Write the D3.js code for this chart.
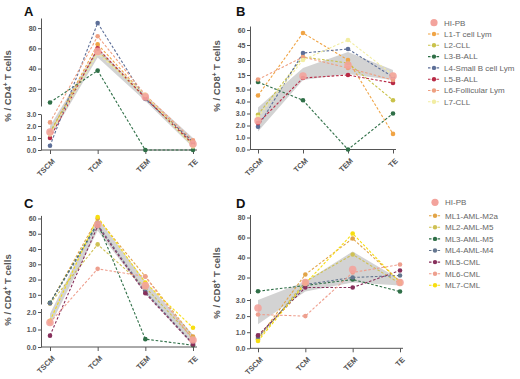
<!DOCTYPE html>
<html><head><meta charset="utf-8">
<script src="https://cdn.jsdelivr.net/npm/d3@7"></script>
<style>body{margin:0;background:#fff}svg{display:block}text{font-family:"Liberation Sans",Arial,sans-serif}</style>
</head><body><svg id="c" width="520" height="379"></svg>
<script>
// ---------- categories & names ----------
const stages = ["TSCM", "TCM", "TEM", "TE"];
const lymphNames = ["HI-PB", "L1-T cell Lym", "L2-CLL", "L3-B-ALL", "L4-Small B cell Lym", "L5-B-ALL", "L6-Follicular Lym", "L7-CLL"];
const myeloNames = ["HI-PB", "ML1-AML-M2a", "ML2-AML-M5", "ML3-AML-M5", "ML4-AML-M4", "ML5-CML", "ML6-CML", "ML7-CML"];
const lymphColors = ["#f3a39c", "#f0a445", "#c9c24a", "#2f6f47", "#5d6f98", "#b82a45", "#ee9f80", "#f2eda2"];
const myeloColors = ["#f3a39c", "#e2a446", "#cfc154", "#2f6f47", "#64768f", "#87305c", "#ee9f8e", "#f7de10"];

// ---------- Panel A : % CD4+ T cells, lymphoid ----------
const aHIPB = [1.5, 57, 12, 0.5];
const aBandLow = [1.0, 51, 8, 0.2];
const aBandHigh = [2.0, 60, 14, 1.0];
const aL1 = [1.4, 64, 13, 0.6];
const aL2 = [1.5, 58, 11, 0.4];
const aL3 = [6.5, 38, 0, 0];
const aL4 = [0.35, 85, 10, 0.7];
const aL5 = [1.0, 60, 11, 0.5];
const aL6 = [2.3, 72, 14, 0.8];
const aL7 = [1.3, 55, 14, 0.3];
const aUpperTicks = [20, 40, 60, 80];
const aLowerTicks = [0, 1, 2, 3];

// ---------- Panel B : % CD8+ T cells, lymphoid ----------
const bHIPB = [2.4, 14, 25, 14];
const bBandLow = [1.5, 10, 16, 10];
const bBandHigh = [3.5, 22, 38, 20];
const bL1 = [4.5, 57, 30, 1.3];
const bL2 = [2.9, 33, 27, 4.1];
const bL3 = [8, 4.1, 0, 3.0];
const bL4 = [1.9, 37, 41, 13];
const bL5 = [2.2, 12, 15, 7];
const bL6 = [10.5, 33, 22, 10];
const bL7 = [2.7, 30, 50, 15];
const bUpperTicks = [15, 30, 45, 60];
const bLowerTicks = [0, 1, 2, 3, 4, 5];

// ---------- Panel C : % CD4+ T cells, myeloid ----------
const cHIPB = [1.4, 56, 16, 0.4];
const cBandLow = [1.2, 52, 11, 0.1];
const cBandHigh = [1.9, 60, 19, 0.7];
const cML1 = [4.5, 60, 22, 0.6];
const cML2 = [4.3, 43, 15, 0.5];
const cML3 = [4.8, 57, 0.45, 0.1];
const cML4 = [4.5, 56, 12, 0.2];
const cML5 = [0.65, 55, 11, 0.15];
const cML6 = [1.4, 27, 22, 0.4];
const cML7 = [1.5, 61, 18, 1.1];
const cUpperTicks = [10, 20, 30, 40, 50, 60];
const cLowerTicks = [0, 1, 2];

// ---------- Panel D : % CD8+ T cells, myeloid ----------
const dHIPB = [2.5, 15, 28, 15];
const dBandLow = [1.5, 6, 15, 12];
const dBandHigh = [3.0, 16, 46, 18];
const dML1 = [0.6, 23, 59, 16];
const dML2 = [0.55, 16, 43, 14];
const dML3 = [6.3, 12, 18, 6];
const dML4 = [0.7, 13, 20, 22];
const dML5 = [0.8, 10, 10, 27];
const dML6 = [2.1, 2.0, 25, 33];
const dML7 = [0.45, 14, 64, 15];
const dUpperTicks = [20, 40, 60, 80];
const dLowerTicks = [0, 1, 2, 3];

// ---------- layout (positions only) ----------
const panels = [
  {title: "A", tx: 24, ty: 16, ylab: "CD4", ylx: 11, yly: 86,
   hipb: aHIPB, low: aBandLow, high: aBandHigh, series: [aL1, aL2, aL3, aL4, aL5, aL6, aL7], colors: lymphColors,
   xr: [50, 193], axisX: 41, xEnd: 197, baseY: 150,
   up: {d: [3, 90], r: [106, 18], t: aUpperTicks}, lo: {d: [0, 3], r: [150, 114], t: aLowerTicks}},
  {title: "B", tx: 236, ty: 16, ylab: "CD8", ylx: 220, yly: 76,
   hipb: bHIPB, low: bBandLow, high: bBandHigh, series: [bL1, bL2, bL3, bL4, bL5, bL6, bL7], colors: lymphColors,
   xr: [258, 393], axisX: 250, xEnd: 396, baseY: 149.5,
   up: {d: [6, 64], r: [84, 26], t: bUpperTicks}, lo: {d: [0, 5.2], r: [149.5, 87.1], t: bLowerTicks}},
  {title: "C", tx: 24, ty: 208, ylab: "CD4", ylx: 11, yly: 290,
   hipb: cHIPB, low: cBandLow, high: cBandHigh, series: [cML1, cML2, cML3, cML4, cML5, cML6, cML7], colors: myeloColors,
   xr: [50, 193], axisX: 41, xEnd: 197, baseY: 347,
   up: {d: [4, 62], r: [304, 215.4], t: cUpperTicks}, lo: {d: [0, 2.2], r: [347, 308.5], t: cLowerTicks}},
  {title: "D", tx: 236, ty: 208, ylab: "CD8", ylx: 220, yly: 283,
   hipb: dHIPB, low: dBandLow, high: dBandHigh, series: [dML1, dML2, dML3, dML4, dML5, dML6, dML7], colors: myeloColors,
   xr: [258, 400], axisX: 250, xEnd: 403, baseY: 348.3,
   up: {d: [4, 83], r: [293.5, 214.5], t: dUpperTicks}, lo: {d: [0, 3.1], r: [348.3, 298.4], t: dLowerTicks}}
];

const svg = d3.select("#c");
const axisCol = "#555";

panels.forEach(p => {
  const g = svg.append("g");
  const x = d3.scalePoint().domain(stages).range(p.xr);
  const yU = d3.scaleLinear().domain(p.up.d).range(p.up.r);
  const yL = d3.scaleLinear().domain(p.lo.d).range(p.lo.r);
  const ym = v => (v >= p.up.d[0] ? yU(v) : yL(v));

  const bandData = stages.map((s, i) => ({s, lo: p.low[i], hi: p.high[i]}));
  g.append("path").datum(bandData)
    .attr("d", d3.area().x(d => x(d.s)).y0(d => ym(d.lo)).y1(d => ym(d.hi)))
    .attr("fill", "#c4c4c4").attr("fill-opacity", 0.75);

  const styleAxis = sel => {
    sel.selectAll("path,line").attr("stroke", axisCol).attr("stroke-width", 1);
    sel.selectAll("text").attr("fill", "#555").attr("font-size", 7).attr("font-weight", "bold");
  };
  g.append("g").attr("transform", `translate(${p.axisX},0)`)
    .call(d3.axisLeft(yU).tickValues(p.up.t).tickSize(3).tickSizeOuter(0).tickPadding(1.5)).call(styleAxis);
  g.append("g").attr("transform", `translate(${p.axisX},0)`)
    .call(d3.axisLeft(yL).tickValues(p.lo.t).tickSize(3).tickSizeOuter(0).tickPadding(1.5)).call(styleAxis);
  const gx = g.append("g").attr("transform", `translate(0,${p.baseY})`)
    .call(d3.axisBottom(x).tickSize(4).tickSizeOuter(0));
  gx.select(".domain").attr("d", `M${p.axisX},0H${p.xEnd}`);
  gx.call(styleAxis);
  gx.selectAll(".tick text").attr("x", 0).attr("y", 0).attr("dy", "0.35em")
    .attr("text-anchor", "end").attr("font-size", 7.5)
    .attr("transform", "translate(3,10) rotate(-45)");

  const line = d3.line().x((d, i) => x(stages[i])).y(d => ym(d));
  p.series.forEach((vals, k) => {
    g.append("path").datum(vals).attr("d", line)
      .attr("fill", "none").attr("stroke", p.colors[k + 1]).attr("stroke-width", 1.1)
      .attr("stroke-dasharray", "2.6,1.8");
  });
  p.series.forEach((vals, k) => {
    g.selectAll(null).data(vals).enter().append("circle")
      .attr("cx", (d, i) => x(stages[i])).attr("cy", d => ym(d)).attr("r", 2.3)
      .attr("fill", p.colors[k + 1]);
  });
  g.selectAll(null).data(p.hipb).enter().append("circle")
    .attr("cx", (d, i) => x(stages[i])).attr("cy", d => ym(d)).attr("r", 3.8)
    .attr("fill", p.colors[0]).attr("fill-opacity", 0.9);

  g.append("text").attr("x", p.tx).attr("y", p.ty).text(p.title)
    .attr("font-size", 13).attr("font-weight", "bold").attr("fill", "#111");
  const yl = g.append("text").attr("transform", `translate(${p.ylx},${p.yly}) rotate(-90)`)
    .attr("text-anchor", "middle").attr("font-size", 9.5).attr("font-weight", "bold").attr("fill", "#555");
  yl.append("tspan").text("% / " + p.ylab);
  yl.append("tspan").text("+").attr("font-size", 6.5).attr("dy", -3.5);
  yl.append("tspan").text(" T cells").attr("dy", 3.5);
});

// legends
function drawLegend(names, colors, lx, ly, steps) {
  const lg = svg.append("g").attr("transform", `translate(${lx},${ly})`);
  names.forEach((n, i) => {
    const row = lg.append("g").attr("transform", `translate(0,${steps[i]})`);
    if (i === 0) {
      row.append("circle").attr("cx", 6).attr("cy", 0).attr("r", 3.6).attr("fill", colors[0]);
    } else {
      row.append("line").attr("x1", 0).attr("x2", 12).attr("y1", 0).attr("y2", 0)
        .attr("stroke", colors[i]).attr("stroke-width", 1.1).attr("stroke-dasharray", "2.5,1.8");
      row.append("circle").attr("cx", 6).attr("cy", 0).attr("r", 2.2).attr("fill", colors[i]);
    }
    row.append("text").attr("x", 16).attr("y", 0).attr("dy", "0.35em").text(n)
      .attr("font-size", 8).attr("fill", "#666");
  });
}
drawLegend(lymphNames, lymphColors, 428, 22.7, lymphNames.map((d, i) => i * 11.3));
drawLegend(myeloNames, myeloColors, 429, 202.3, myeloNames.map((d, i) => i === 0 ? 0 : 13.4 + (i - 1) * 11.6));
</script></body></html>
